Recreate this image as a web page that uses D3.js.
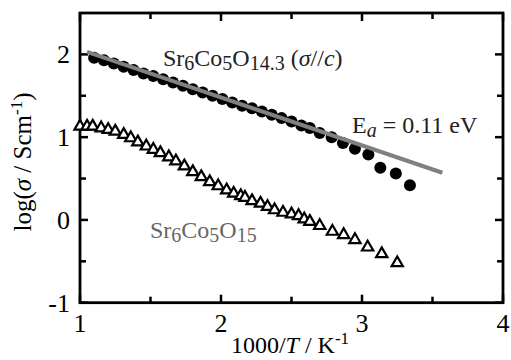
<!DOCTYPE html>
<html>
<head>
<meta charset="utf-8">
<script src="https://cdn.jsdelivr.net/npm/d3@7"></script>
<style>
body { margin: 0; background: #fff; }
svg { display: block; font-family: "Liberation Serif", "Times New Roman", serif; }
</style>
</head>
<body>
<script>
//Sr6Co5O14.3 (sigma // c), filled circles
var circleX = [1.10, 1.17, 1.24, 1.31, 1.38, 1.45, 1.52, 1.59, 1.66, 1.73, 1.80, 1.87, 1.94, 2.01, 2.08,
    2.15, 2.22, 2.29, 2.36, 2.43, 2.50, 2.57, 2.63, 2.70, 2.785, 2.865, 2.95, 3.045, 3.13, 3.24, 3.34];
var circleY = [1.96, 1.93, 1.89, 1.85, 1.81, 1.77, 1.74, 1.70, 1.66, 1.62, 1.58, 1.54, 1.50, 1.46, 1.42,
    1.38, 1.35, 1.31, 1.27, 1.23, 1.19, 1.14, 1.11, 1.05, 1.00, 0.93, 0.86, 0.79, 0.63, 0.56, 0.42];

//Sr6Co5O15, open triangles
var triX = [1.00, 1.05, 1.09, 1.15, 1.20, 1.25, 1.31, 1.36, 1.41, 1.47, 1.52, 1.57, 1.63, 1.68, 1.74,
    1.80, 1.86, 1.92, 1.98, 2.04, 2.09, 2.14, 2.17, 2.22, 2.28, 2.33, 2.38, 2.44, 2.50, 2.55, 2.59,
    2.63, 2.70, 2.79, 2.87, 2.95, 3.04, 3.14, 3.25];
var triY = [1.13, 1.13, 1.13, 1.11, 1.09, 1.07, 1.03, 0.99, 0.94, 0.89, 0.85, 0.81, 0.76, 0.71, 0.65,
    0.58, 0.52, 0.46, 0.41, 0.36, 0.32, 0.29, 0.27, 0.23, 0.20, 0.16, 0.12, 0.09, 0.07, 0.05, 0.01,
    -0.02, -0.07, -0.14, -0.18, -0.24, -0.33, -0.41, -0.52];

//Arrhenius fit line, Ea = 0.11 eV
var fitX = [1.05, 3.57];
var fitY = [2.03, 0.57];

var xTicks = [1, 2, 3, 4];
var yTicks = [-1, 0, 1, 2];
var xMinor = [1.5, 2.5, 3.5];
var yMinor = [-0.5, 0.5, 1.5];

var width = 511,
    height = 360;

var x = d3.scaleLinear().domain([1, 4]).range([80, 503]);
var y = d3.scaleLinear().domain([-1, 2.5]).range([302.7, 13]);

var svg = d3.select("body").append("svg")
    .attr("width", width)
    .attr("height", height);

//tick marks pointing inward on all four sides
var ticks = svg.append("g").attr("stroke", "#000").attr("stroke-width", 2.5);
function tickSet(vals, len){
    vals.forEach(function(v){
        ticks.append("line").attr("x1", x(v)).attr("x2", x(v)).attr("y1", y(-1)).attr("y2", y(-1) - len);
        ticks.append("line").attr("x1", x(v)).attr("x2", x(v)).attr("y1", y(2.5)).attr("y2", y(2.5) + len);
    });
}
function tickSetY(vals, len){
    vals.forEach(function(v){
        ticks.append("line").attr("y1", y(v)).attr("y2", y(v)).attr("x1", x(1)).attr("x2", x(1) + len);
        ticks.append("line").attr("y1", y(v)).attr("y2", y(v)).attr("x1", x(4)).attr("x2", x(4) - len);
    });
}
tickSet(xTicks, 8);
tickSet(xMinor, 6);
tickSetY(yTicks, 8);
tickSetY(yMinor, 6);

//frame
svg.append("rect")
    .attr("x", x(1)).attr("y", y(2.5))
    .attr("width", x(4) - x(1)).attr("height", y(-1) - y(2.5))
    .attr("fill", "none").attr("stroke", "#000").attr("stroke-width", 2.8);

//tick labels
svg.selectAll(".xlab").data(xTicks).enter().append("text")
    .attr("class", "xlab")
    .attr("x", function(d){ return x(d); })
    .attr("y", 332)
    .attr("text-anchor", "middle")
    .attr("font-size", 26)
    .text(function(d){ return d; });

svg.selectAll(".ylab").data(yTicks).enter().append("text")
    .attr("class", "ylab")
    .attr("x", 70)
    .attr("y", function(d){ return y(d) + 9; })
    .attr("text-anchor", "end")
    .attr("font-size", 26)
    .text(function(d){ return d; });

//axis titles
var xt = svg.append("text")
    .attr("x", 290).attr("y", 353)
    .attr("text-anchor", "middle")
    .attr("font-size", 24);
xt.append("tspan").text("1000/");
xt.append("tspan").attr("font-style", "italic").text("T");
xt.append("tspan").text("  / K");
xt.append("tspan").attr("font-size", 17).attr("dy", -9).text("-1");

var yt = svg.append("text")
    .attr("transform", "translate(31,162) rotate(-90)")
    .attr("text-anchor", "middle")
    .attr("font-size", 25);
yt.append("tspan").text("log(");
yt.append("tspan").attr("font-style", "italic").text("σ");
yt.append("tspan").text(" / Scm");
yt.append("tspan").attr("font-size", 17).attr("dy", -9).text("-1");
yt.append("tspan").attr("dy", 9).text(")");

//data: triangles
svg.selectAll(".tri").data(triX).enter().append("path")
    .attr("class", "tri")
    .attr("d", d3.symbol(d3.symbolTriangle).size(55))
    .attr("transform", function(d, i){ return "translate(" + x(d) + "," + y(triY[i]) + ")"; })
    .attr("fill", "#fff")
    .attr("stroke", "#000")
    .attr("stroke-width", 2.2);

//data: circles
svg.selectAll(".dot").data(circleX).enter().append("circle")
    .attr("class", "dot")
    .attr("cx", function(d){ return x(d); })
    .attr("cy", function(d, i){ return y(circleY[i]); })
    .attr("r", 6)
    .attr("fill", "#000");

//fit line on top of circles
svg.append("path")
    .datum(fitX.map(function(d, i){ return [d, fitY[i]]; }))
    .attr("d", d3.line().x(function(d){ return x(d[0]); }).y(function(d){ return y(d[1]); }))
    .attr("stroke", "#808080")
    .attr("stroke-width", 4)
    .attr("fill", "none");

//annotations
function subLabel(xp, yp, color, parts){
    var t = svg.append("text").attr("x", xp).attr("y", yp)
        .attr("font-size", 24).attr("fill", color);
    parts.forEach(function(p){
        var s = t.append("tspan").text(p.t);
        if (p.sub) s.attr("font-size", 20);
        if (p.it) s.attr("font-style", "italic");
        if (p.dy) s.attr("dy", p.dy);
    });
}
subLabel(163, 66, "#222", [
    {t: "Sr"}, {t: "6", sub: true, dy: 4}, {t: "Co", dy: -4}, {t: "5", sub: true, dy: 4},
    {t: "O", dy: -4}, {t: "14.3", sub: true, dy: 4}, {t: " (", dy: -4}, {t: "σ", it: true},
    {t: "//"}, {t: "c", it: true}, {t: ")"}
]);
subLabel(352, 133, "#222", [
    {t: "E"}, {t: "a", sub: true, it: true, dy: 4}, {t: " = 0.11 eV", dy: -4}
]);
subLabel(150, 238, "#666", [
    {t: "Sr"}, {t: "6", sub: true, dy: 4}, {t: "Co", dy: -4}, {t: "5", sub: true, dy: 4},
    {t: "O", dy: -4}, {t: "15", sub: true, dy: 4}
]);
</script>
</body>
</html>
